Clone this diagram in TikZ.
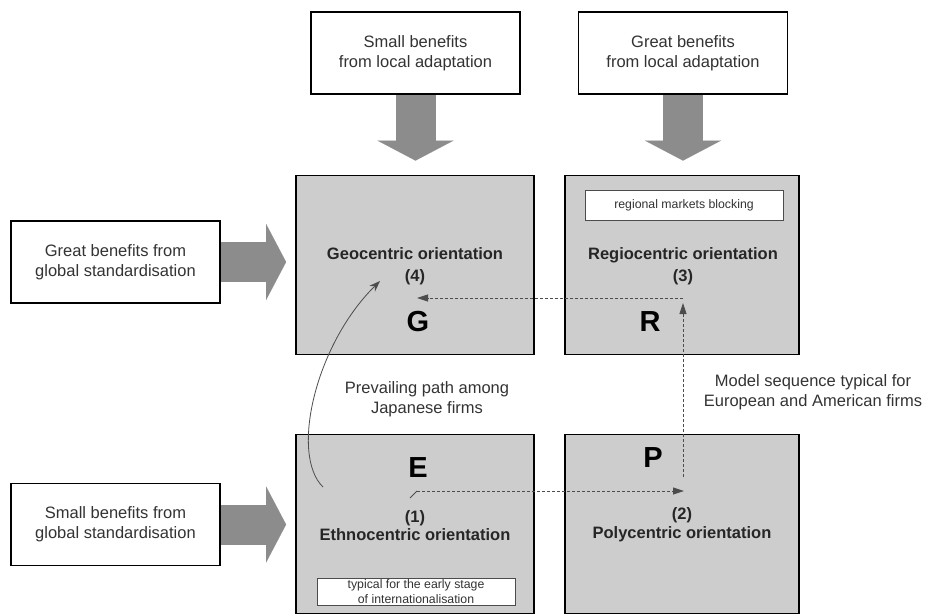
\documentclass[tikz,border=0pt]{standalone}
\usepackage{fontspec}
\setmainfont{Liberation Sans}
\usetikzlibrary{arrows.meta}
\definecolor{orfill}{HTML}{CDCDCD}
\definecolor{blockgray}{HTML}{8C8C8C}
\definecolor{txtgray}{HTML}{333333}

\begin{document}
\begin{tikzpicture}[x=1pt,y=-1pt,
  benefit/.style={draw=black,line width=1.6pt,fill=white,align=center,text=txtgray,
    font=\fontsize{16.5}{20}\selectfont,inner sep=0pt,minimum width=209pt,minimum height=82pt},
  orbox/.style={draw=black,line width=1.8pt,fill=orfill,inner sep=0pt,minimum height=179pt},
  ortext/.style={align=center,text=black!85,font=\bfseries\fontsize{16.5}{22}\selectfont},
  letter/.style={text=black,font=\bfseries\fontsize{29}{29}\selectfont},
  note/.style={draw=black!70,line width=0.8pt,fill=white,align=center,text=txtgray,
    font=\fontsize{12.3}{15}\selectfont,inner sep=0pt,minimum width=198pt},
  remark/.style={align=center,text=txtgray,font=\fontsize{16.5}{20}\selectfont},
  blockarrow/.style={line width=40pt,draw=blockgray,
    -{Triangle[length=20pt,width=76pt,line width=0.1pt]}},
  seqline/.style={draw=black!70,line width=0.8pt,dash pattern=on 3pt off 2pt,
    -{Triangle[length=11pt,width=7pt]}}]

\useasboundingbox (0,0) rectangle (926,615);

%benefit boxes
\node [benefit] (topsmall) at (415.5,53) {Small benefits\\from local adaptation};
\node [benefit] (topgreat) at (683,53) {Great benefits\\from local adaptation};
\node [benefit] (leftgreat) at (115.5,262) {Great benefits from\\global standardisation};
\node [benefit] (leftsmall) at (115.5,524.5) {Small benefits from\\global standardisation};

%orientation boxes
\node [orbox,minimum width=238pt] (geo) at (415,265) {};
\node [orbox,minimum width=234pt] (regio) at (682,265) {};
\node [orbox,minimum width=238pt] (ethno) at (415,524) {};
\node [orbox,minimum width=234pt] (poly) at (682,524) {};

%orientation labels
\node [ortext] (geotxt) at (415,266) {Geocentric orientation\\(4)};
\node [letter] (geoG) at (418,322) {G};
\node [note,minimum height=30pt] (regionote) at (684,205) {regional markets blocking};
\node [ortext] (regiotxt) at (683,266) {Regiocentric orientation\\(3)};
\node [letter] (regioR) at (650,322) {R};
\node [letter] (ethnoE) at (418,468) {E};
\node [ortext,font=\bfseries\fontsize{16.5}{18}\selectfont] (ethnotxt) at (415,526) {(1)\\Ethnocentric orientation};
\node [note,minimum height=27pt] (ethnonote) at (416,591.5) {typical for the early stage\\of internationalisation};
\node [letter] (polyP) at (653,458) {P};
\node [ortext,font=\bfseries\fontsize{16.5}{19}\selectfont] (polytxt) at (682,525) {(2)\\Polycentric orientation};

%block arrows
\draw [blockarrow,shorten >=14pt] (topsmall.south) -- (topsmall.south |- geo.north);
\draw [blockarrow,shorten >=14pt] (topgreat.south) -- (topgreat.south |- regio.north);
\draw [blockarrow,shorten >=9pt] (leftgreat.east) -- (leftgreat.east -| geo.west);
\draw [blockarrow,shorten >=9pt] (leftsmall.east) -- (leftsmall.east -| ethno.west);

%path remarks
\node [remark] (japan) at (427,399.5) {Prevailing path among\\Japanese firms};
\node [remark] (western) at (813,392.5) {Model sequence typical for\\European and American firms};

%model sequence
\coordinate (seqa) at (417,491);
\coordinate (seqb) at (684,491);
\coordinate (seqc) at (683,477);
\coordinate (seqd) at (683,303);
\coordinate (seqe) at (683,298);
\coordinate (seqf) at (417,298);
\draw [black!70,line width=0.8pt] (410,498) -- (seqa) ;
\draw [seqline] (seqa) -- (seqb) ;
\draw [seqline] (seqc) -- (seqd) ;
\draw [seqline] (seqe) -- (seqf) ;

%japanese path
\coordinate (jpa) at (323,487);
\coordinate (jpb) at (380,281);
\draw [black!70,line width=0.8pt,-{Stealth[length=11pt,width=8pt]}] (jpa) .. controls (290,455) and (315,345) .. (jpb) ;

\end{tikzpicture}
\end{document}
